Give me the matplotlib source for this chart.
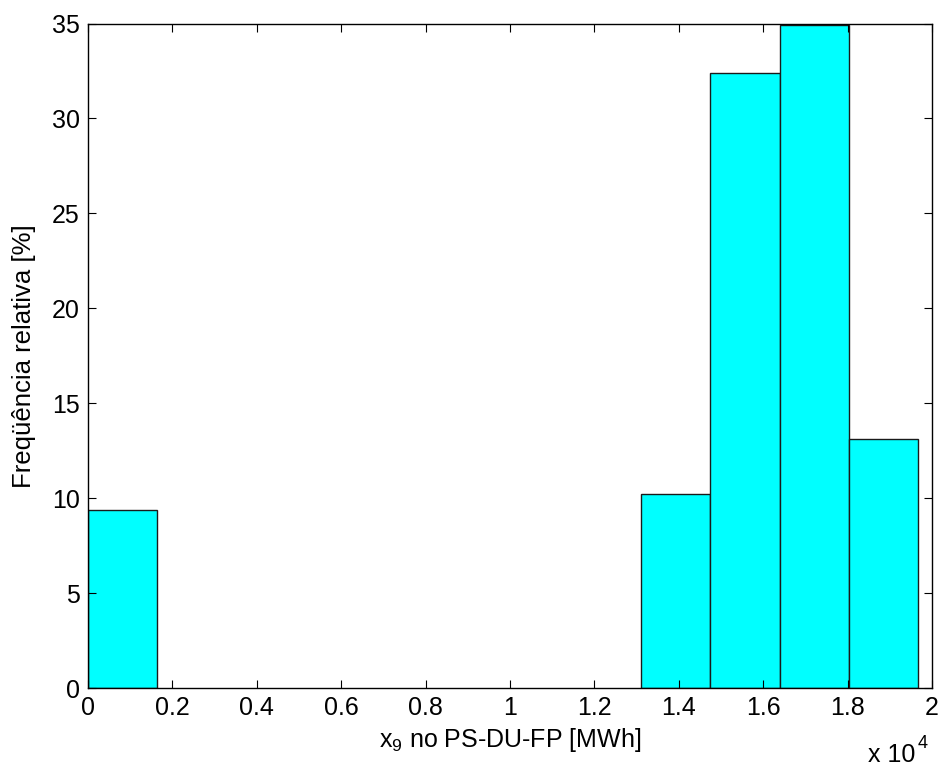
import matplotlib
matplotlib.use("Agg")
import matplotlib.pyplot as plt

# histogram bins (x 10^4 MWh) and relative frequency [%]
bin_left = [0.0, 1.311, 1.475, 1.639, 1.803]
bin_width = 0.164
freq = [9.4, 10.2, 32.4, 34.9, 13.1]

xticks = [0, 0.2, 0.4, 0.6, 0.8, 1, 1.2, 1.4, 1.6, 1.8, 2]
xtick_labels = ["0", "0.2", "0.4", "0.6", "0.8", "1", "1.2", "1.4", "1.6", "1.8", "2"]
yticks = [0, 5, 10, 15, 20, 25, 30, 35]

plt.rcParams["font.family"] = ["Liberation Sans", "DejaVu Sans"]
plt.rcParams["mathtext.fontset"] = "custom"
plt.rcParams["mathtext.rm"] = "Liberation Sans"
plt.rcParams["mathtext.it"] = "Liberation Sans"

fig = plt.figure(figsize=(9.43, 7.69), dpi=100)
ax = fig.add_axes([0.0933, 0.1053, 0.8950, 0.8641])

ax.bar(bin_left, freq, width=bin_width, align="edge", color="#00ffff",
       edgecolor="#1a1a1a", linewidth=1.0)

ax.set_xlim(0, 2)
ax.set_ylim(0, 35)
ax.set_xticks(xticks)
ax.set_xticklabels(xtick_labels)
ax.set_yticks(yticks)
ax.tick_params(direction="in", top=True, right=True, labelsize=18,
               length=6, width=0.8, pad=6)
for s in ax.spines.values():
    s.set_linewidth(1.0)

ax.set_xlabel("x$_9$ no PS-DU-FP [MWh]", fontsize=18, labelpad=4)
ax.set_ylabel("Freqüência relativa [%]", fontsize=18.5)
ax.yaxis.set_label_coords(-0.062, 0.5)

# MATLAB-style exponent label under the right end of the x axis
fig.text(0.971, 0.009, "x 10", ha="right", va="baseline", fontsize=18)
fig.text(0.973, 0.027, "4", ha="left", va="baseline", fontsize=13)

fig.savefig("out.png", dpi=100)
